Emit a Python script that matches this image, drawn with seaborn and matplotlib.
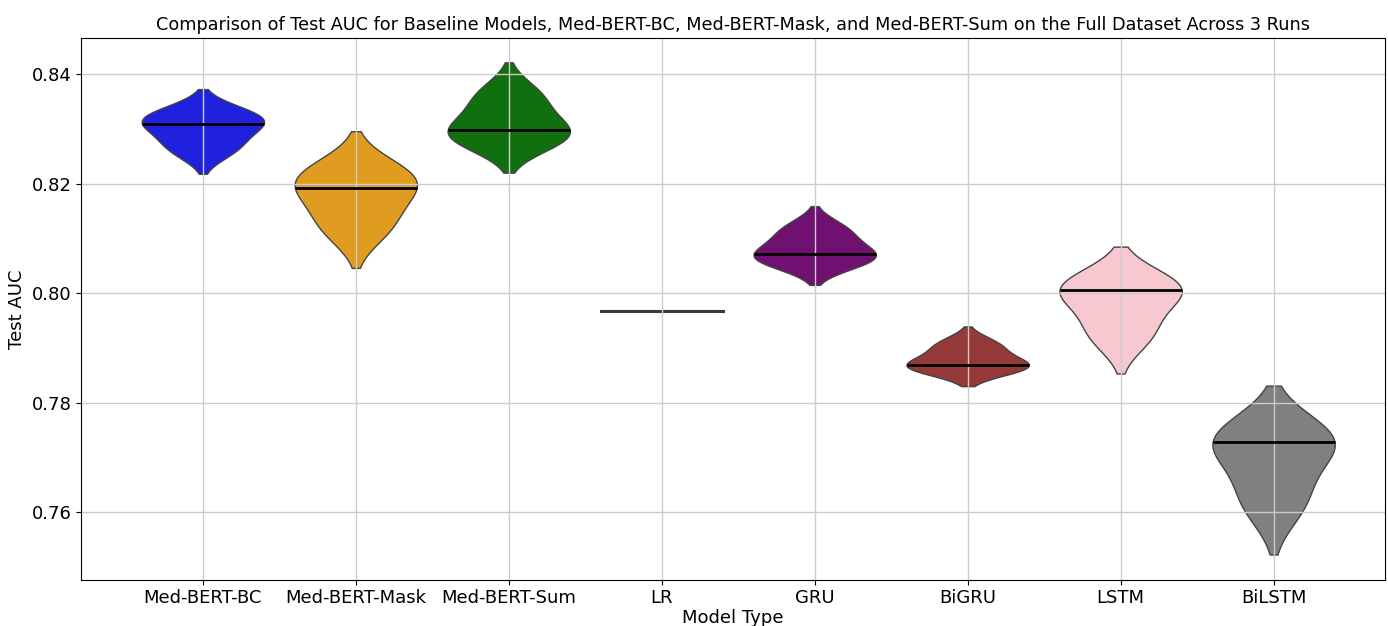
import pandas as pd
import numpy as np
import matplotlib
matplotlib.use("Agg")
import matplotlib.pyplot as plt
from matplotlib.collections import PolyCollection
import seaborn as sns

models=["Med-BERT-BC","Med-BERT-Mask","Med-BERT-Sum","LR","GRU","BiGRU","LSTM","BiLSTM"]

# test AUC of the 3 runs per model
med_bert_bc=[0.82665,0.8310,0.83245]
med_bert_mask=[0.8124,0.8192,0.8218]
med_bert_sum=[0.82837,0.8298,0.83583]
lr=[0.7968,0.7968,0.7968]
gru=[0.80602,0.8072,0.81138]
bigru=[0.78649,0.7868,0.79041]
lstm=[0.79277,0.8006,0.80103]
bilstm=[0.76219,0.7728,0.77311]

colors=["blue","orange","green","red","purple","brown","pink","gray"]

runs=[med_bert_bc,med_bert_mask,med_bert_sum,lr,gru,bigru,lstm,bilstm]
df=pd.DataFrame({
    "Model Type":np.repeat(models,3),
    "Test AUC":np.concatenate(runs)
})

fig=plt.figure(figsize=(13.88,6.26),dpi=100)
ax=fig.add_axes([0.058,0.073,0.94,0.866])

sns.violinplot(
    data=df,
    x="Model Type",
    y="Test AUC",
    hue="Model Type",
    palette=colors,
    inner=None,
    density_norm="width",
    width=0.8,
    linecolor="#444444",
    linewidth=1,
    legend=False,
    ax=ax
)

#median line across each violin; zero-spread model (LR) is a flat line
stats=df.groupby("Model Type",sort=False)["Test AUC"].agg(["median","std"])
for coll in ax.collections:
    if not isinstance(coll,PolyCollection):
        continue
    verts=coll.get_paths()[0].vertices
    cx=(verts[:,0].min()+verts[:,0].max())/2
    i=int(round(cx))
    if stats["std"].iloc[i]==0:
        coll.set_linewidth(2.2)
        coll.set_edgecolor("#3a3a3a")
        continue
    med=stats["median"].iloc[i]
    right=verts[verts[:,0]>=cx]
    right=right[np.argsort(right[:,1])]
    half=np.interp(med,right[:,1],right[:,0])-cx
    ax.hlines(med,cx-half,cx+half,color="black",linewidth=2,zorder=3)

ax.grid(True,color="#cccccc",linewidth=1)
ax.set_xlim(-0.8,7.73)
ax.set_ylim(0.7475,0.8466)
ax.set_yticks([0.76,0.78,0.80,0.82,0.84])
ax.tick_params(labelsize=13,pad=3)
ax.set_xlabel("Model Type",fontsize=13,labelpad=1)
ax.set_ylabel("Test AUC",fontsize=13)
ax.set_title("Comparison of Test AUC for Baseline Models, Med-BERT-BC, Med-BERT-Mask, and Med-BERT-Sum on the Full Dataset Across 3 Runs",fontsize=12.7)

plt.savefig("out.png",dpi=100)
